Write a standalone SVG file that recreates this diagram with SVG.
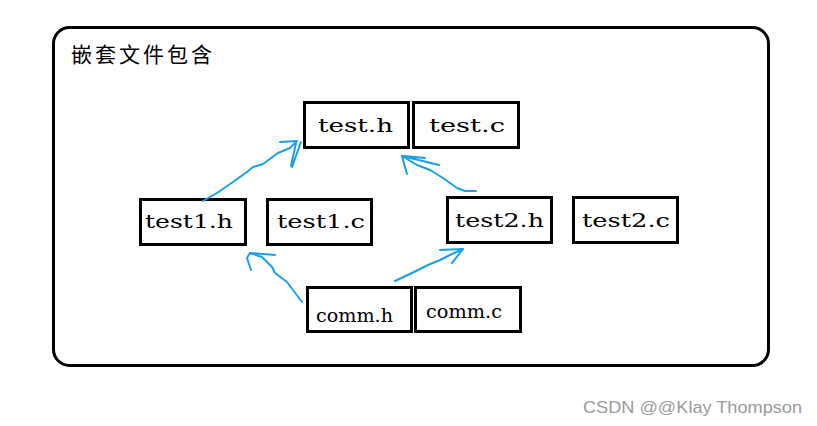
<svg xmlns="http://www.w3.org/2000/svg" width="817" height="426" viewBox="0 0 817 426">
<style>
.box{fill:#fff;stroke:#000;stroke-width:3}
.lbl{font-family:"DejaVu Serif","Liberation Serif",serif;font-size:19px;fill:#000;text-anchor:middle}
.arr{fill:none;stroke:#1aa0e0;stroke-width:2;stroke-linecap:round;stroke-linejoin:round}
</style>
<rect x="0" y="0" width="817" height="426" fill="#fff"/>
<g id="frame">
<rect x="53.5" y="27.5" width="715" height="338" rx="16" ry="16" fill="none" stroke="#000" stroke-width="3"/>
<text x="71" y="62" font-family="'Noto Sans CJK SC','Noto Sans CJK JP',sans-serif" font-size="21" letter-spacing="3" fill="#000">嵌套文件包含</text>
</g>
<g id="test_h"><rect class="box" x="304.5" y="102.5" width="104" height="45"/><text class="lbl" x="355.5" y="132" textLength="75" lengthAdjust="spacingAndGlyphs">test.h</text></g>
<g id="test_c"><rect class="box" x="413.5" y="102.5" width="105" height="45"/><text class="lbl" x="467" y="132" textLength="76" lengthAdjust="spacingAndGlyphs">test.c</text></g>
<g id="test1_h"><rect class="box" x="140.5" y="199.5" width="105" height="45"/><text class="lbl" x="189" y="228" textLength="88" lengthAdjust="spacingAndGlyphs">test1.h</text></g>
<g id="test1_c"><rect class="box" x="267.5" y="199.5" width="104" height="45"/><text class="lbl" x="321" y="228" textLength="88" lengthAdjust="spacingAndGlyphs">test1.c</text></g>
<g id="test2_h"><rect class="box" x="447.5" y="197.5" width="104" height="45"/><text class="lbl" x="499.5" y="227" textLength="89" lengthAdjust="spacingAndGlyphs">test2.h</text></g>
<g id="test2_c"><rect class="box" x="573.5" y="197.5" width="104" height="45"/><text class="lbl" x="626" y="227" textLength="88" lengthAdjust="spacingAndGlyphs">test2.c</text></g>
<g id="comm_h"><rect class="box" x="307.5" y="287.5" width="104" height="44"/><text class="lbl" x="354.5" y="322" textLength="77" lengthAdjust="spacingAndGlyphs">comm.h</text></g>
<g id="comm_c"><rect class="box" x="415.5" y="287.5" width="105" height="44"/><text class="lbl" x="464" y="318" textLength="76" lengthAdjust="spacingAndGlyphs">comm.c</text></g>
<g id="connectors">
<path class="arr" d="M203,201 L217,193 L233,182 L247,172 L253,167 L263,164 L278,153 L290,148 L296,142"/>
<path class="arr" d="M280,142 L297,141 M301,142 L292,167 M296,143 L291,166"/>
<path class="arr" d="M476,191 L465,191 L457,188 L443,178 L430,170 L417,165 L402,156"/>
<path class="arr" d="M402,156 L407,174 M402,156 L439,165 M404,156 L425,158"/>
<path class="arr" d="M302,302 L293,290 L287,282 L275,273 L272,267 L262,257 L250,253"/>
<path class="arr" d="M250,253 L247,258 L251,270 M250,253 L275,255"/>
<path class="arr" d="M395,281 L412,273 L428,265 L440,260 L450,255 L463,249"/>
<path class="arr" d="M440,250 L463,249 M463,249 L452,263"/>
</g>
<text x="583" y="413" font-family="'Liberation Sans',Arial,sans-serif" font-size="17" fill="#9a9a9a" textLength="219" lengthAdjust="spacingAndGlyphs">CSDN @@Klay Thompson</text>
</svg>
